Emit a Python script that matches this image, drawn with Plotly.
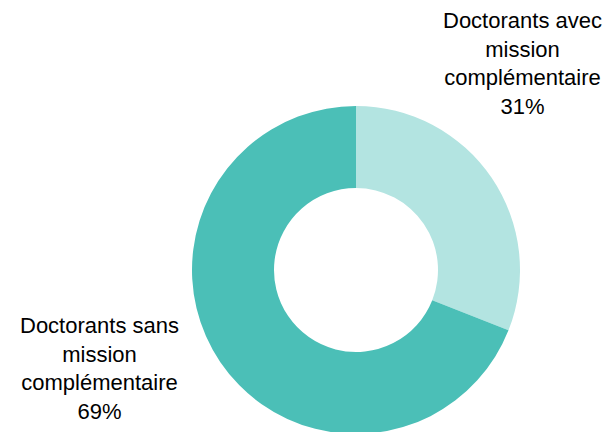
import plotly.graph_objects as go

categories = ["Doctorants avec<br>mission<br>complémentaire", "Doctorants sans<br>mission<br>complémentaire"]
values = [31, 69]
colors = ["#b3e4e1", "#4bbfb7"]

# figure size (page body adds an 8px offset)
W, H = 605, 428
cx, top, r = 348, 98, 164

fig = go.Figure(go.Pie(
    values=values,
    labels=categories,
    hole=0.5,
    sort=False,
    direction="clockwise",
    rotation=0,
    marker=dict(colors=colors, line=dict(width=0)),
    textinfo="none",
    hoverinfo="label+percent",
    domain=dict(x=[(cx - r) / W, (cx + r) / W],
                y=[1 - (top + 2 * r) / H, 1 - top / H]),
    showlegend=False,
))

total = sum(values)
label_pos = [(514, 55.5), (91, 360)]
for cat, v, (x, y) in zip(categories, values, label_pos):
    fig.add_annotation(
        x=x / W, y=1 - y / H, xref="paper", yref="paper",
        text=f"{cat}<br>{round(100 * v / total)}%",
        showarrow=False, xanchor="center", yanchor="middle", align="center",
        font=dict(family="Liberation Sans, Arial", size=22, color="#000000"),
    )

fig.update_layout(
    width=W, height=H,
    margin=dict(l=0, r=0, t=0, b=0),
    paper_bgcolor="white", plot_bgcolor="white",
)

fig.write_html("out.html")
